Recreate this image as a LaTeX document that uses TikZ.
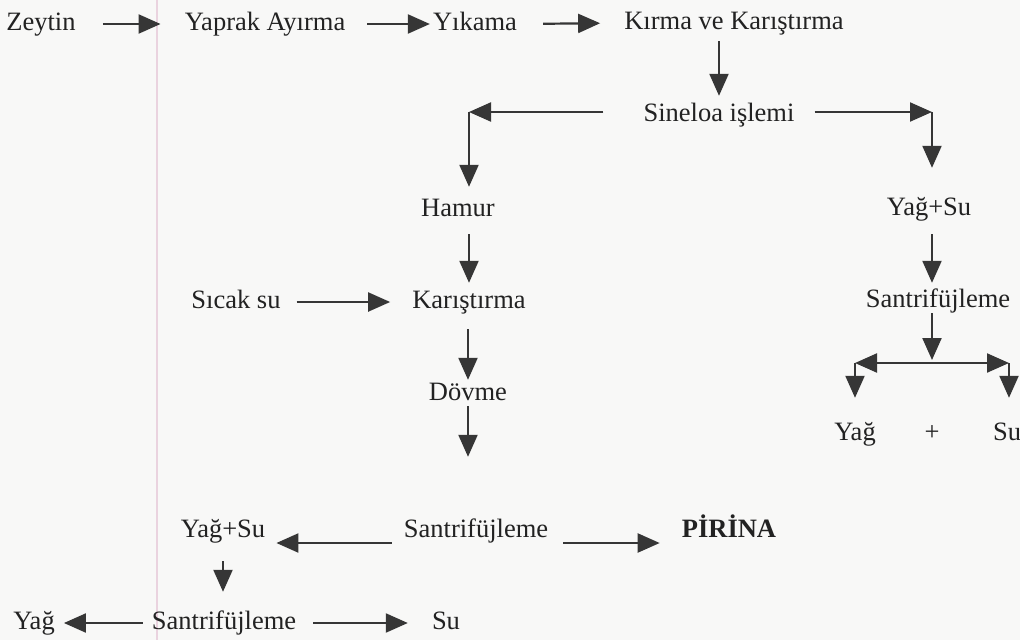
\documentclass[tikz,border=0pt]{standalone}
\usepackage{fontspec}
\setmainfont{Liberation Serif}
\usetikzlibrary{arrows.meta}
\definecolor{ink}{HTML}{222222}
\definecolor{arrowc}{HTML}{363636}
\definecolor{paper}{HTML}{F8F8F7}
\definecolor{marginc}{HTML}{EAD3DF}
\begin{document}
\begin{tikzpicture}[x=1pt,y=-1pt,
  txt/.style={font=\fontsize{26.5}{30}\selectfont, text=ink, inner sep=0pt, text height=18pt, text depth=6pt},
  arr/.style={draw=arrowc, line width=2.2pt, -{Triangle[length=22pt,width=19pt]}}]
\fill[paper] (0,0) rectangle (1020,640);
\useasboundingbox (0,0) rectangle (1020,640);
\draw[marginc, line width=1.2pt] (157,0) -- (157,640);

% row 1
\node[txt] (zey) at (41,24) {Zeytin};
\node[txt] (yap) at (265,24) {Yaprak Ayırma};
\node[txt] (yik) at (475,24) {Yıkama};
\node[txt] (kir) at (734,23) {Kırma ve Karıştırma};
% sineloa
\node[txt] (sin) at (719,115) {Sineloa işlemi};
% left branch
\node[txt] (ham) at (458,210) {Hamur};
\node[txt] (sic) at (236,302) {Sıcak su};
\node[txt] (kar) at (469,302) {Karıştırma};
\node[txt] (dov) at (468,394) {Dövme};
% right branch
\node[txt] (ys1) at (929,209) {Yağ+Su};
\node[txt] (sr) at (938,301) {Santrifüjleme};
\node[txt] (y1) at (855,434) {Yağ};
\node[txt] (plus) at (932,434) {+};
\node[txt] (su1) at (1007,434) {Su};
% middle row
\node[txt] (ys2) at (223,531) {Yağ+Su};
\node[txt] (s2) at (476,531) {Santrifüjleme};
\node[txt, font=\fontsize{26.5}{30}\selectfont\bfseries] (pir) at (729,531) {PİRİNA};
% bottom row
\node[txt] (y2) at (34,623) {Yağ};
\node[txt] (s3) at (224,623) {Santrifüjleme};
\node[txt] (su2) at (446,623) {Su};

% corner coordinates
\coordinate (cL) at (469,112);
\coordinate (cR) at (932,112);
\coordinate (cB) at (932,363);
\coordinate (cBL) at (855,363);
\coordinate (cBR) at (1009,363);

% row 1 arrows
\draw[arr, shorten <=27pt, shorten >=24pt] (zey.east) -- (yap.west);
\draw[arr, shorten <=22pt, shorten >=3pt] (yap.east) -- (yik.west);
\draw[arr, shorten <=26pt, shorten >=24pt] (yik.east) -- (kir.west);
\draw[arr, shorten <=6pt, shorten >=7pt] (kir.south -| sin.north) -- (sin.north);

% sineloa split
\draw[arr, shorten <=40pt] (sin.west |- cL) -- (cL);
\draw[arr, shorten >=11pt] (cL) -- (ham.north -| cL);
\draw[arr, shorten <=20pt] (sin.east |- cR) -- (cR);
\draw[arr, shorten >=29pt] (cR) -- (ys1.north -| cR);

% left branch
\draw[arr, shorten <=12pt, shorten >=7pt] (ham.south -| kar.north) -- (kar.north);
\draw[arr, shorten <=16pt, shorten >=22pt] (sic.east) -- (kar.west);
\draw[arr, shorten <=15pt, shorten >=2pt] (kar.south -| dov.north) -- (dov.north);
\draw[arr, shorten >=62pt] (dov.south) -- (dov.south |- s2.north);

% right branch
\draw[arr, shorten <=13pt, shorten >=6pt] (ys1.south -| cR) -- (sr.north -| cR);
\draw[arr, shorten >=3pt] (sr.south -| cB) -- (cB);
\draw[arr] (cB) -- (cBL);
\draw[arr] (cB) -- (cBR);
\draw[arr, shorten >=24pt] (cBL) -- (y1.north);
\draw[arr, shorten >=24pt] (cBR) -- (su1.north -| cBR);

% middle row
\draw[arr, shorten <=12pt, shorten >=11pt] ([yshift=-12pt]s2.west) -- ([yshift=-12pt]ys2.east);
\draw[arr, shorten <=15pt, shorten >=22pt] ([yshift=-12pt]s2.east) -- ([yshift=-12pt]pir.west);
\draw[arr, shorten <=18pt, shorten >=19pt] (ys2.south) -- (ys2.south |- s3.north);

% bottom row
\draw[arr, shorten <=9pt, shorten >=9pt] (s3.west) -- (y2.east);
\draw[arr, shorten <=17pt, shorten >=24pt] (s3.east) -- (su2.west);
\end{tikzpicture}
\end{document}
